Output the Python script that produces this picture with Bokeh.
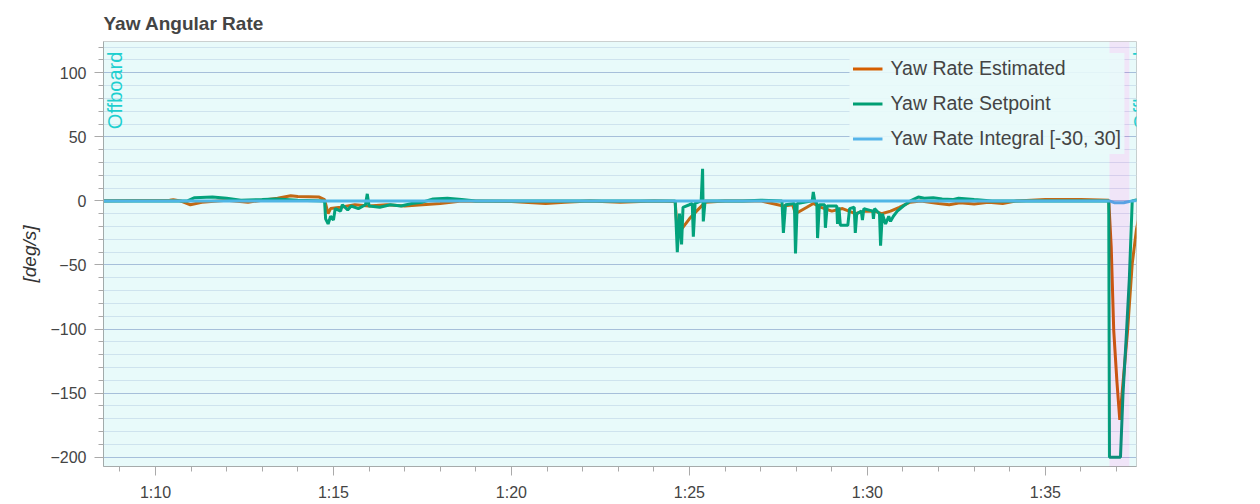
import math
from bokeh.plotting import figure
from bokeh.models import (Range1d, SingleIntervalTicker, CustomJSTickFormatter,
                          BoxAnnotation, Legend, LegendItem)
from bokeh.core.properties import value
from bokeh.embed import file_html
from bokeh.resources import INLINE

# ---------------- data (time in seconds, rate in deg/s) ----------------
t_est = [68.0, 70.4, 70.5, 70.7, 70.98, 71.3, 72.0, 72.6, 73.0, 73.43, 73.8, 74.0,
         74.6, 74.75, 74.85, 74.92, 75.2, 75.6, 76.0, 76.5, 77.0, 77.5, 78.0, 78.6,
         80.0, 80.96, 81.5, 82.2, 83.06, 84.0, 84.6, 84.66, 84.78, 85.0, 85.2, 85.45,
         86.0, 87.0, 87.64, 87.9, 87.98, 88.3, 88.48, 88.7, 89.0, 89.3, 89.66, 89.9,
         90.2, 90.4, 90.65, 90.9, 91.2, 91.5, 92.0, 92.3, 92.6, 93.0, 93.4, 93.8,
         94.2, 95.0, 96.0, 96.78, 96.85, 96.92, 97.01, 97.09, 97.31, 97.44, 97.56, 97.65]
yaw_est = [0, 0.5, 1, 0, -3, -1, 0.5, -1, 0.5, 2, 4, 3.5,
           3, 1, -10, -6, -5, -3, -4, -3, -4, -3, -2, 0,
           -0.5, -2, -1, 0, -1, 0, -0.5, -25, -22, -14, -8, -1,
           0, 0, -4, -3, -10, -5, -2, -5, -8, -6, -10, -8,
           -8, -10, -8, -5, -1, 0, -2, -3, -1.5, -2.5, -1, -2,
           0, 1, 1, 0.5, -36, -101, -141, -171, -101, -49, -22, -10]

t_sp = [68.0, 70.9, 71.1, 71.6, 72.0, 72.4, 73.0, 73.4, 74.0, 74.75,
        74.78, 74.85, 74.92, 75.0, 75.05, 75.2, 75.25, 75.4, 75.5, 75.7, 75.9, 75.95,
        76.0, 76.3, 76.6, 76.9, 77.2, 77.5, 77.8, 78.2, 78.6, 79.0,
        84.6, 84.66, 84.72, 84.78, 84.82, 85.0, 85.08, 85.11, 85.16, 85.33, 85.37, 85.39, 85.44,
        86.5, 87.0, 87.6,
        87.64, 87.7, 87.95, 87.98, 88.03, 88.45, 88.48, 88.52, 88.58, 88.60, 88.65, 88.8,
        88.82, 88.87, 89.14, 89.16, 89.2, 89.24, 89.45, 89.5, 89.63, 89.66, 89.7, 89.83,
        89.86, 89.9, 90.15, 90.17, 90.2, 90.34, 90.37, 90.42, 90.51, 90.6, 90.65, 90.73,
        90.84, 91.01, 91.21, 91.43, 91.6, 91.85, 92.1, 92.39, 92.56, 93.0, 93.5,
        96.78, 96.80, 97.11, 97.18, 97.28, 97.36, 97.44, 97.6]
yaw_sp = [0, 0, 2.5, 3, 2, 0.5, 1, 1.5, 0.5, 0,
          -14, -18, -12, -15, -6, -8, -3, -7, -4, -6, -3, 5.5,
          -4, -5, -3, -4, -2, -1, 1.5, 2, 1, 0,
          0, -40, -10, -34, -5, -3, -2, -28, -2, 0, 25, -16, 0,
          0, 0.5, 0,
          -25, -3, -2, -41, -2, 0, 7, 0, -2, -29, -3, -3,
          -21, -4, -4, -18, -5, -19, -19, -6, -5, -25, -10, -8,
          -15, -6, -8, -14, -6, -10, -35, -10, -18, -12, -16, -12,
          -8, -4, 0, 3, 2, 2.5, 1.5, 1, 2, 1, 0,
          0, -200, -200, -151, -102, -60, 0, 1]

t_int = [68.0, 96.80, 96.95, 97.2, 97.44, 97.65]
yaw_int = [0, 0, -1.5, -1.5, 0, 0.5]

series_labels = ["Yaw Rate Estimated", "Yaw Rate Setpoint", "Yaw Rate Integral [-30, 30]"]
series_colors = ["#D55E00", "#009E73", "#56B4E9"]

mode_names = ["Offboard", "", "Offboard"]
mode_start = [60.0, 96.80, 97.36]
mode_end = [96.80, 97.36, 110.0]
mode_colors = ["#1fd0d0", "#6a00b8", "#1fd0d0"]

FONT = "Liberation Sans"

p = figure(frame_width=1033, frame_height=425, output_backend="svg",
           toolbar_location=None, title="Yaw Angular Rate",
           x_range=Range1d(68.54, 97.56), y_range=Range1d(-207.3, 124.4),
           min_border_left=103, min_border_top=41, min_border_right=90,
           min_border_bottom=20)
p.background_fill_color = "white"
p.border_fill_color = "white"
p.outline_line_color = "#d0d0d0"

p.title.text_font = FONT
p.title.text_font_size = "19px"
p.title.text_color = "#444444"
p.title.text_font_style = "bold"
p.title.standoff = 15

p.xaxis.ticker = SingleIntervalTicker(interval=5, num_minor_ticks=5)
p.yaxis.ticker = SingleIntervalTicker(interval=50, num_minor_ticks=5)
p.xaxis.formatter = CustomJSTickFormatter(code="""
    const m = Math.floor(tick / 60);
    const s = Math.round(tick - m * 60);
    return m + ':' + (s < 10 ? '0' : '') + s;
""")
for ax in (p.xaxis[0], p.yaxis[0]):
    ax.major_label_text_font = FONT
    ax.major_label_text_font_size = "16px"
    ax.major_label_text_color = "#444444"
    ax.axis_line_color = "#aaaaaa"
    ax.major_tick_line_color = "#aaaaaa"
    ax.minor_tick_line_color = "#aaaaaa"
    ax.major_tick_out = 9
    ax.major_tick_in = 0
    ax.minor_tick_out = 5
    ax.minor_tick_in = 0
    ax.major_label_standoff = 8
p.yaxis.axis_label = "[deg/s]"
p.yaxis.axis_label_text_font = FONT
p.yaxis.axis_label_text_font_size = "19px"
p.yaxis.axis_label_text_font_style = "italic"
p.yaxis.axis_label_text_color = "#333333"
p.yaxis.axis_label_standoff = 7

p.xgrid.grid_line_color = None
p.ygrid.grid_line_color = "#b6bedc"
p.ygrid.grid_line_alpha = 1.0
p.ygrid.minor_grid_line_color = "#e2e6f2"

r_est = p.line(t_est, yaw_est, color=series_colors[0], line_width=3)
r_sp = p.line(t_sp, yaw_sp, color=series_colors[1], line_width=3)
r_int = p.line(t_int, yaw_int, color=series_colors[2], line_width=3)

legend = Legend(items=[LegendItem(label=series_labels[0], renderers=[r_est]),
                       LegendItem(label=series_labels[1], renderers=[r_sp]),
                       LegendItem(label=series_labels[2], renderers=[r_int])],
                location="top_right")
legend.label_text_font = FONT
legend.label_text_font_size = "19.5px"
legend.label_text_color = "#444444"
legend.glyph_width = 30
legend.glyph_height = 25
legend.label_height = 25
legend.label_standoff = 8
legend.spacing = 10
legend.padding = 3
legend.margin = 12
legend.border_line_alpha = 0
legend.background_fill_color = "#e9fafa"
legend.background_fill_alpha = 0.9
p.add_layout(legend, "center")

# flight-mode labels (glyphs, so they are clipped to the frame)
lab_x = []
lab_t = []
for name, s in zip(mode_names, mode_start):
    if name:
        lab_x.append(max(s, 68.54) + 0.02)
        lab_t.append(name)
p.text(x=lab_x, y=[56] * len(lab_x), text=lab_t, angle=math.pi / 2,
       text_align="left", text_baseline="top", text_color=mode_colors[0],
       text_font=value(FONT), text_font_size="20px")

# flight-mode shading
for s, e, c in zip(mode_start, mode_end, mode_colors):
    p.add_layout(BoxAnnotation(left=s, right=e, fill_color=c, fill_alpha=0.1,
                               line_alpha=0, level="annotation"))

open("out.html", "w").write(file_html(p, INLINE))
